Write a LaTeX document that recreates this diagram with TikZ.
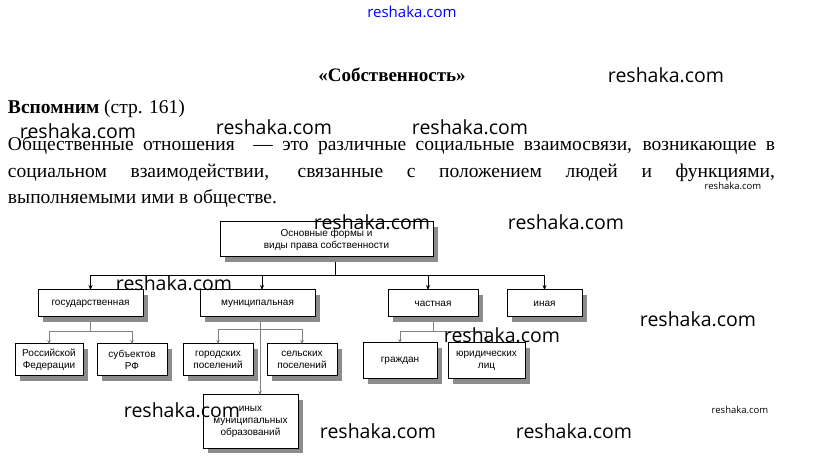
\documentclass[tikz,border=0pt]{standalone}
\usepackage{fontspec}
\setmainfont{Liberation Serif}
\newfontfamily\boxfont{Liberation Sans}
\newfontfamily\wmfont{Open Sans}
\usetikzlibrary{shadows,arrows.meta}
\begin{document}
\begin{tikzpicture}[
		x=1pt, y=-1pt,
		every node/.style={inner sep=0, outer sep=0},
		prose/.style={font=\fontsize{19.5}{22}\selectfont},
		form/.style={draw, line width=1pt, fill=white, align=center,
			font=\boxfont\fontsize{10}{12}\selectfont,
			drop shadow={shadow xshift=5pt, shadow yshift=-5pt, opacity=1, fill=black!45}},
		link/.style={line width=0.8pt},
		arrow/.style={link, -{Stealth[length=5pt,width=4pt]}},
		sublink/.style={gray, line width=0.6pt},
		subarrow/.style={sublink, -{Stealth[length=4pt,width=3.5pt]}},
		wm/.style={font=\wmfont\fontsize{19.5}{20}\selectfont},
		wmsmall/.style={font=\wmfont\fontsize{9.5}{10}\selectfont},
	]
	\fill[white] (0,0) rectangle (823,465);
	\useasboundingbox (0,0) rectangle (823,465);

	\node[font=\bfseries\fontsize{19}{22}\selectfont] (title) at (392,75) {«Собственность»};
	\node[prose, anchor=west] (recall) at (8,109) {\textbf{Вспомним} (стр. 161)};
	\node[prose, anchor=west] (line1) at (8,146) {\makebox[767pt][s]{Общественные отношения \ — это различные социальные взаимосвязи, возникающие в}};
	\node[prose, anchor=west] (line2) at (8,173) {\makebox[767pt][s]{социальном взаимодействии, связанные с положением людей и функциями,}};
	\node[prose, anchor=west] (line3) at (8,199) {выполняемыми ими в обществе.};

	\node[form, minimum width=213, minimum height=35] (top) at (326.5,239.5) {Основные формы и\\виды права собственности};

	\node[form, minimum width=105, minimum height=27] (gos) at (90.5,303.5) {государственная};
	\node[form, minimum width=115, minimum height=27] (mun) at (257.5,303.5) {муниципальная};
	\node[form, minimum width=90, minimum height=27] (chast) at (433,303.5) {частная};
	\node[form, minimum width=75, minimum height=27] (ina) at (544.5,303.5) {иная};

	\node[form, minimum width=68, minimum height=32] (rf) at (49,360) {Российской\\Федерации};
	\node[form, minimum width=70, minimum height=32] (subj) at (132,360) {субъектов\\РФ};
	\node[form, minimum width=70, minimum height=32] (gor) at (218,360) {городских\\поселений};
	\node[form, minimum width=70, minimum height=32] (sel) at (302,360) {сельских\\поселений};
	\node[form, minimum width=74, minimum height=36] (grazh) at (400,361) {граждан};
	\node[form, minimum width=77, minimum height=36] (yur) at (486.5,361) {юридических\\лиц};
	\node[form, minimum width=95, minimum height=53] (inyh) at (250.5,421.5) {иных\\муниципальных\\образований};

	\coordinate (split) at (335,275);
	\draw[link] (top.south -| split) ++(0,5) -- (split);
	\draw[arrow] (split) -| (gos);
	\draw[arrow] (split) -| (mun.north -| 262,0);
	\draw[arrow] (split) -| (chast.north -| 428,0);
	\draw[arrow] (split) -| (ina);

	\coordinate (gsplit) at (90.5,331);
	\draw[sublink] (gos.south) ++(0,5) -- (gsplit);
	\draw[subarrow] (gsplit) -| (rf);
	\draw[subarrow] (gsplit) -| (subj);

	\coordinate (msplit) at (260,329);
	\draw[subarrow] (mun.south -| msplit) ++(0,5) -- (inyh.north -| msplit);
	\draw[subarrow] (msplit) -| (gor);
	\draw[subarrow] (msplit) -| (sel);

	\coordinate (csplit) at (433,331);
	\draw[sublink] (chast.south) ++(0,5) -- (csplit);
	\draw[subarrow] (csplit) -| (grazh);
	\draw[subarrow] (csplit) -| (yur);

	\node[font=\wmfont\fontsize{15}{16}\selectfont, blue] (wm1) at (412,12) {reshaka.com};
	\node[wm] (wm2) at (666,75) {reshaka.com};
	\node[wm] (wm3) at (78,131) {reshaka.com};
	\node[wm] (wm4) at (274,127) {reshaka.com};
	\node[wm] (wm5) at (470,127) {reshaka.com};
	\node[wmsmall] (wm6) at (733,186) {reshaka.com};
	\node[wm] (wm7) at (372,222) {reshaka.com};
	\node[wm] (wm8) at (566,222) {reshaka.com};
	\node[wm] (wm9) at (174,283) {reshaka.com};
	\node[wm] (wm10) at (698,319) {reshaka.com};
	\node[wm] (wm11) at (502,335) {reshaka.com};
	\node[wm] (wm12) at (182,410) {reshaka.com};
	\node[wm] (wm13) at (378,431) {reshaka.com};
	\node[wm] (wm14) at (574,431) {reshaka.com};
	\node[wmsmall] (wm15) at (740,410) {reshaka.com};
\end{tikzpicture}
\end{document}
